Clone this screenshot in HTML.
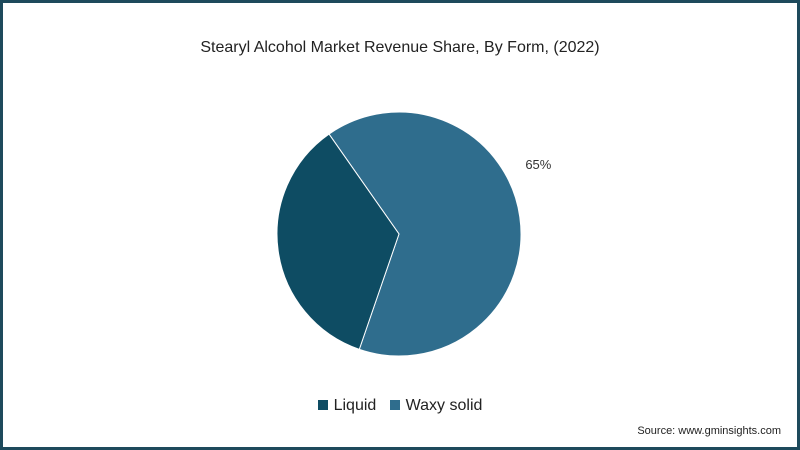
<!DOCTYPE html>
<html><head><meta charset="utf-8"><style>
html,body{margin:0;padding:0;background:#fff;}
#wrap{position:relative;width:800px;height:450px;box-sizing:border-box;border:3px solid #1e4a5c;background:#fff;font-family:"Liberation Sans",sans-serif;overflow:hidden;}
#title{position:absolute;top:36px;left:0;width:794px;text-align:center;font-size:16px;color:#222;}
#legend{position:absolute;top:394px;left:0;width:794px;text-align:center;font-size:16px;color:#222;}
.sw{display:inline-block;width:10px;height:10px;margin-right:6px;vertical-align:0px;}
#src{position:absolute;right:16px;bottom:10px;font-size:11px;color:#222;}
</style></head><body>
<div id="wrap">
<div id="title">Stearyl Alcohol Market Revenue Share, By Form, (2022)</div>
<svg id="pie" width="794" height="444" style="position:absolute;left:0;top:0"></svg>
<div id="legend">
<span><span class="sw" style="background:#0e4c63"></span>Liquid</span>
&nbsp;&nbsp;<span><span class="sw" style="background:#2f6d8d"></span>Waxy solid</span>
</div>
<div id="src">Source: www.gminsights.com</div>
</div>
<script>
const categories=["Waxy solid","Liquid"];
const values=[65,35];
const labels=["65%",""];
const colors=["#2f6d8d","#0e4c63"];
const svg=document.getElementById('pie');
const cx=396,cy=231,r=122,start=-35;
const total=values.reduce((a,b)=>a+b,0);
let a=start;
function pt(deg,rr){const t=(deg-90)*Math.PI/180;return [cx+rr*Math.cos(t),cy+rr*Math.sin(t)];}
values.forEach((v,i)=>{
  const sweep=v/total*360;const a2=a+sweep;
  const p1=pt(a,r),p2=pt(a2,r);
  const path=document.createElementNS('http://www.w3.org/2000/svg','path');
  path.setAttribute('d',`M${cx},${cy}L${p1[0]},${p1[1]}A${r},${r} 0 ${sweep>180?1:0} 1 ${p2[0]},${p2[1]}Z`);
  path.setAttribute('fill',colors[i]);path.setAttribute('stroke','#fff');path.setAttribute('stroke-width','1');
  
  
  svg.appendChild(path);
  if(labels[i]){
    const lp=pt(a+sweep*0.42,r+34);
    const t=document.createElementNS('http://www.w3.org/2000/svg','text');
    t.setAttribute('x',lp[0]);t.setAttribute('y',lp[1]+5);
    t.setAttribute('font-size','13');t.setAttribute('fill','#333');t.setAttribute('text-anchor','middle');
    t.setAttribute('font-family','Liberation Sans, sans-serif');
    t.textContent=labels[i];
    
    
    svg.appendChild(t);
  }
  a=a2;
});
</script>
</body></html>
